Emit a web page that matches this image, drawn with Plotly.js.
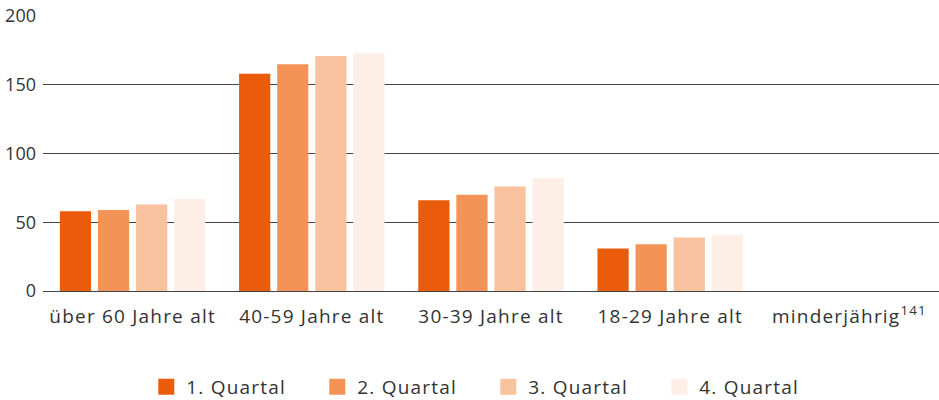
<!DOCTYPE html>
<html><head><meta charset="utf-8">
<script src="https://cdn.plot.ly/plotly-3.0.1.min.js"></script>
<style>
html,body{margin:0;padding:0;background:#fff}#chart{width:939px;height:400px}
.xtick text, .legendtext {letter-spacing: 1.2px;}
</style>
</head><body><div id="chart"></div>
<script>
const categories = ["über 60 Jahre alt", "40-59 Jahre alt", "30-39 Jahre alt", "18-29 Jahre alt", "minderjährig<sup>141</sup>"];
const seriesNames = ["1. Quartal", "2. Quartal", "3. Quartal", "4. Quartal"];
const q1 = [58, 158, 66, 31, null];
const q2 = [59, 165, 70, 34, null];
const q3 = [63, 171, 76, 39, null];
const q4 = [67, 173, 82, 41, null];
const colors = ["#EA5B0C", "#F39456", "#F9C29E", "#FDEFE6"];
const values = [q1, q2, q3, q4];
const yTicks = [0, 50, 100, 150, 200];

const fam = "Open Sans, Noto Sans, sans-serif";
const yfont = {family: fam, size: 18, color: "#333"};
const xfont = {family: fam, size: 19, color: "#333"};
const bars = values.map((v, i) => ({
  type: "bar", x: categories, y: v, name: seriesNames[i],
  marker: {color: colors[i]}, hoverinfo: "skip", showlegend: false
}));
const legendItems = seriesNames.map((n, i) => ({
  type: "scatter", mode: "markers", x: [null], y: [null], name: n,
  marker: {symbol: "square", size: 18, color: colors[i]}, hoverinfo: "skip"
}));
const layout = {
  width: 939, height: 400,
  margin: {l: 43, r: 0, t: 16, b: 109},
  paper_bgcolor: "#fff", plot_bgcolor: "#fff",
  font: yfont,
  barmode: "group", bargap: 0.15, bargroupgap: 0.18,
  xaxis: {showgrid: false, showline: true, linecolor: "#444", linewidth: 1,
          ticks: "", tickfont: xfont, ticklabelstandoff: 8, automargin: false, fixedrange: true},
  yaxis: {range: [0, 200], tickvals: yTicks, ticktext: yTicks.map(String),
          showgrid: true, gridcolor: "#444", gridwidth: 1, zeroline: false,
          showline: false, ticks: "", tickfont: yfont, ticklabelstandoff: 6,
          automargin: false, fixedrange: true},
  showlegend: true,
  legend: {orientation: "h", x: 0.52, xanchor: "center", xref: "container",
           y: 0.0325, yanchor: "middle", yref: "container",
           font: xfont, entrywidth: 126, entrywidthmode: "pixels", traceorder: "normal"}
};
Plotly.newPlot("chart", bars.concat(legendItems), layout, {staticPlot: true, displayModeBar: false});
</script></body></html>
